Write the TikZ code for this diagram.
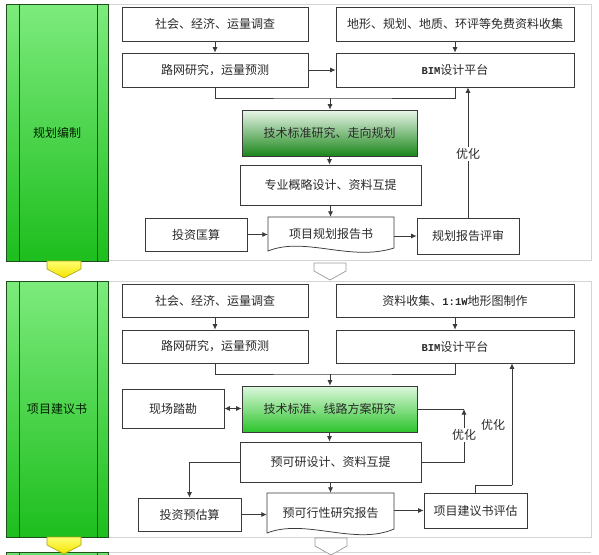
\documentclass[tikz,border=0pt]{standalone}
\usepackage{fontspec}
\setmainfont{Noto Sans CJK SC}
\newfontfamily\monof{Liberation Mono}
\usetikzlibrary{arrows.meta}
\definecolor{ln}{HTML}{3A3A3A}
\definecolor{txt}{HTML}{2A2A2A}
\definecolor{panelc}{HTML}{D4D4D4}
\definecolor{gtop}{HTML}{7DEB7D}
\definecolor{gbot}{HTML}{1DBE1D}
\definecolor{barln}{HTML}{1F4F1F}
\definecolor{gatop}{HTML}{EAF6EA}
\definecolor{gamid}{HTML}{70BA70}
\definecolor{gabot}{HTML}{1A861A}
\definecolor{gbtop}{HTML}{DDF8DD}
\definecolor{gbmid}{HTML}{55D655}
\definecolor{gbbot}{HTML}{2CC42C}
\definecolor{ytop}{HTML}{FFFF70}
\definecolor{ybot}{HTML}{F2E200}
\definecolor{yln}{HTML}{A89E10}
\begin{document}
\begin{tikzpicture}[x=1pt,y=-1pt,
  box/.style={draw=ln, line width=0.75pt, fill=white, inner sep=0pt, text=txt,
    font=\fontsize{12}{14}\selectfont},
  docnode/.style={inner sep=0pt, text=txt, font=\fontsize{12}{14}\selectfont},
  bar/.style={top color=gtop, bottom color=gbot, draw=barln, line width=0.7pt,
    inner sep=0pt, minimum width=102pt, text=black!80!green!60!black,
    font=\fontsize{12}{14}\selectfont},
  panel/.style={draw=panelc, line width=0.8pt},
  arr/.style={-{Latex[length=5.5pt,width=5pt]}, line width=0.75pt, draw=ln},
  dbl/.style={{Latex[length=5.5pt,width=5pt]}-{Latex[length=5.5pt,width=5pt]}, line width=0.75pt, draw=ln},
  ln/.style={line width=0.75pt, draw=ln},
  opt/.style={fill=white, inner sep=1pt, text=txt, font=\fontsize{12}{14}\selectfont},
  ychev/.style={top color=ytop, bottom color=ybot, draw=yln, line width=0.6pt},
  wchev/.style={fill=white, draw=gray!80, line width=0.7pt},
  mono/.style={}
]
\useasboundingbox (0,0) rectangle (599,554);
\fill[white] (0,0) rectangle (599,554);

% ---------- panels ----------
\draw[panel] (108,4) rectangle (591,260);
\draw[panel] (108,281) rectangle (591,537);
\draw[panel] (108,552) -- (591,552);

% ---------- left bars ----------
\node[bar, minimum height=257pt] (L1) at (57,132.5) {规划编制};
\draw[barln, line width=0.7pt] (19,4) -- (19,261) (97,4) -- (97,261);
\node[bar, minimum height=256pt] (L2) at (57,409) {项目建议书};
\draw[barln, line width=0.7pt] (19,281) -- (19,537) (97,281) -- (97,537);
\fill[top color=gtop, bottom color=gbot] (6,552) rectangle (108,560);
\draw[barln, line width=0.7pt] (6,552) -- (108,552) (19,552) -- (19,560) (97,552) -- (97,560) (6,552) -- (6,560) (108,552) -- (108,560);

% yellow chevrons
\draw[ychev] (47,261) -- (81,261) -- (81,269) -- (64,278) -- (47,269) -- cycle;
\draw[ychev] (47,537) -- (81,537) -- (81,545) -- (64,554) -- (47,545) -- cycle;
% white chevrons
\draw[wchev] (314,263) -- (346,263) -- (346,271) -- (330,280) -- (314,271) -- cycle;
\draw[wchev] (315,538) -- (347,538) -- (347,546) -- (331,555) -- (315,546) -- cycle;

% ---------- panel 1 ----------
\node[box, minimum width=186pt, minimum height=34pt] (s1) at (215,24) {社会、经济、运量调查};
\node[box, minimum width=238pt, minimum height=34pt] (d1) at (455,24) {地形、规划、地质、环评等免费资料收集};
\node[box, minimum width=186pt, minimum height=34pt] (r1) at (215,70) {路网研究，运量预测};
\node[box, minimum width=238pt, minimum height=34pt] (b1) at (455,70) {{\monof\bfseries\fontsize{10.5}{12}\selectfont BIM}设计平台};
\node[box, minimum width=175pt, minimum height=46pt, fill=none, top color=gatop, middle color=gamid, bottom color=gabot] (g1) at (329.5,133) {技术标准研究、走向规划};
\node[box, minimum width=181pt, minimum height=40pt] (z1) at (330.5,185) {专业概略设计、资料互提};
\fill[white] (268,217) -- (394,217) -- (394,248) .. controls (350,262) and (305,236) .. (268,251) -- cycle;
\draw[ln] (268,217) -- (394,217) -- (394,248) .. controls (350,262) and (305,236) .. (268,251) -- cycle;
\node[docnode, minimum width=126pt, minimum height=34pt] (doc1) at (331,234) {项目规划报告书};
\node[box, minimum width=102pt, minimum height=33pt] (t1) at (196,234.5) {投资匡算};
\node[box, minimum width=102pt, minimum height=36pt] (p1) at (468,236) {规划报告评审};

\coordinate (j1) at (330,98);
\draw[arr] (s1.south) -- (r1.north);
\draw[arr] (d1.south) -- (b1.north);
\draw[arr] (r1.east) -- (b1.west);
\draw[ln] (r1.south) |- (j1) -| (b1.south);
\draw[arr] (j1) -- (j1 |- g1.north);
\draw[arr] (g1.south) -- (g1.south |- z1.north);
\draw[arr] (z1.south) -- (z1.south |- doc1.north);
\draw[arr] (t1.east) -- (t1.east -| doc1.west);
\draw[arr] (p1.west -| doc1.east) -- (p1.west);
\draw[arr] (p1.north) -- (p1.north |- b1.south);
\node[opt] (o1) at (468,154) {优化};

% ---------- panel 2 ----------
\node[box, minimum width=186pt, minimum height=33pt] (s2) at (215,300.5) {社会、经济、运量调查};
\node[box, minimum width=238pt, minimum height=33pt] (d2) at (455,300.5) {资料收集、{\monof\bfseries\fontsize{10.5}{12}\selectfont 1:1W}地形图制作};
\node[box, minimum width=186pt, minimum height=33pt] (r2) at (215,346.5) {路网研究，运量预测};
\node[box, minimum width=238pt, minimum height=33pt] (b2) at (455,346.5) {{\monof\bfseries\fontsize{10.5}{12}\selectfont BIM}设计平台};
\node[box, minimum width=175pt, minimum height=46pt, fill=none, top color=gbtop, middle color=gbmid, bottom color=gbbot] (g2) at (329.5,409) {技术标准、线路方案研究};
\node[box, minimum width=102pt, minimum height=39pt] (x2) at (173,408.5) {现场踏勘};
\node[box, minimum width=181pt, minimum height=40pt] (z2) at (330.5,462) {预可研设计、资料互提};
\fill[white] (267,493) -- (394,493) -- (394,529) .. controls (355,546) and (305,518) .. (267,533) -- cycle;
\draw[ln] (267,493) -- (394,493) -- (394,529) .. controls (355,546) and (305,518) .. (267,533) -- cycle;
\node[docnode, minimum width=127pt, minimum height=40pt] (doc2) at (330.5,513) {预可行性研究报告};
\node[box, minimum width=103pt, minimum height=33pt] (e2) at (189.5,514.5) {投资预估算};
\node[box, minimum width=103pt, minimum height=35pt] (v2) at (475.5,510.5) {项目建议书评估};

\coordinate (j2) at (330,374);
\coordinate (c2) at (464,409);
\coordinate (k2) at (475,485);
\coordinate (m2) at (512,485);
\draw[arr] (s2.south) -- (r2.north);
\draw[arr] (d2.south) -- (b2.north);
\draw[ln] (r2.south) |- (j2) -| (b2.south);
\draw[arr] (j2) -- (j2 |- g2.north);
\draw[dbl] (x2.east) -- (x2.east -| g2.west);
\draw[arr] (g2.south) -- (g2.south |- z2.north);
\draw[arr] (z2.west) -| (e2.north);
\draw[arr] (z2.south) -- (z2.south |- doc2.north);
\draw[arr] (e2.east) -- (e2.east -| doc2.west);
\draw[arr] (v2.west -| doc2.east) -- (v2.west);
\draw[ln] (g2.east) -- (c2);
\draw[arr] (z2.east) -| (c2);
\draw[ln] (v2.north -| k2) -- (k2) -- (m2);
\draw[arr] (m2) -- (m2 |- b2.south);
\node[opt] (o2) at (464,435) {优化};
\node[opt, fill=none] (o3) at (493,425) {优化};
\end{tikzpicture}
\end{document}
